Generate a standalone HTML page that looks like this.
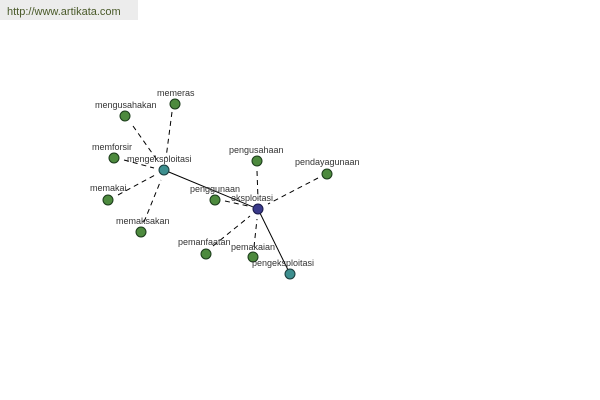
<!DOCTYPE html>
<html><head><style>
body{margin:0;background:#fff;width:600px;height:400px;overflow:hidden;font-family:"Liberation Sans",sans-serif}
</style></head><body>
<svg width="600" height="400" style="position:absolute;left:0;top:0">
<rect x="0" y="0" width="138" height="20" fill="#ececec"/>
<text x="7" y="15" font-size="11" fill="#4a5a2a">http://www.artikata.com</text>
<g stroke="#000" stroke-width="1" stroke-dasharray="5,4" fill="none">
<line x1="172" y1="112" x2="166" y2="158"/>
<line x1="133" y1="126" x2="157" y2="160"/>
<line x1="124" y1="160" x2="154" y2="168"/>
<line x1="118" y1="195" x2="155" y2="175"/>
<line x1="144" y1="222" x2="161" y2="180"/>
<line x1="225" y1="201" x2="248" y2="206"/>
<line x1="257" y1="171" x2="258" y2="199"/>
<line x1="318" y1="178" x2="268" y2="204"/>
<line x1="213" y1="246" x2="250" y2="216"/>
<line x1="254" y1="247" x2="257" y2="219"/>
</g>
<g stroke="#000" stroke-width="1">
<line x1="164" y1="170" x2="258" y2="209"/>
<line x1="258" y1="209" x2="290" y2="274"/>
</g>
<g stroke="#1a3a1a" stroke-width="1" fill="#4d8a3e">
<circle cx="175" cy="104" r="5"/><circle cx="125" cy="116" r="5"/>
<circle cx="114" cy="158" r="5"/><circle cx="108" cy="200" r="5"/>
<circle cx="141" cy="232" r="5"/><circle cx="215" cy="200" r="5"/>
<circle cx="257" cy="161" r="5"/><circle cx="327" cy="174" r="5"/>
<circle cx="206" cy="254" r="5"/><circle cx="253" cy="257" r="5"/>
</g>
<circle cx="164" cy="170" r="5" fill="#3d8f8f" stroke="#1a3a3a"/>
<circle cx="290" cy="274" r="5" fill="#3d8f8f" stroke="#1a3a3a"/>
<circle cx="258" cy="209" r="5" fill="#3a3a8a" stroke="#1a1a4a"/>
<g font-size="9" fill="#333">
<text x="157" y="96">memeras</text>
<text x="95" y="108">mengusahakan</text>
<text x="92" y="150">memforsir</text>
<text x="127" y="162">mengeksploitasi</text>
<text x="90" y="191">memakai</text>
<text x="116" y="224">memaksakan</text>
<text x="190" y="192">penggunaan</text>
<text x="231" y="201">eksploitasi</text>
<text x="229" y="153">pengusahaan</text>
<text x="295" y="165">pendayagunaan</text>
<text x="178" y="245">pemanfaatan</text>
<text x="231" y="250">pemakaian</text>
<text x="252" y="266">pengeksploitasi</text>
</g>
</svg>
</body></html>
